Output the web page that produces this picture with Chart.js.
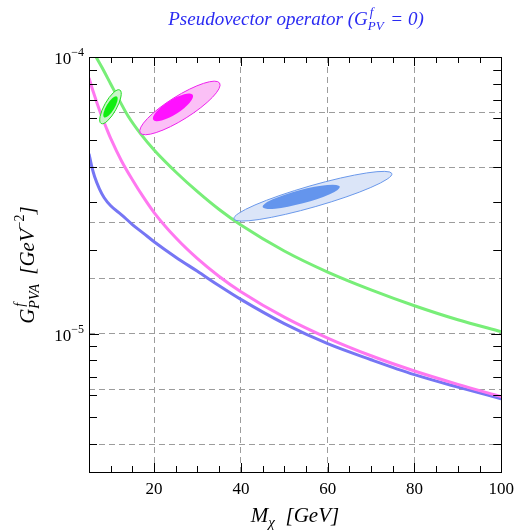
<!DOCTYPE html>
<html>
<head>
<meta charset="utf-8">
<script src="https://cdn.jsdelivr.net/npm/chart.js@4/dist/chart.umd.min.js"></script>
<style>
  html, body { margin: 0; padding: 0; background: #fff; }
  #wrap { width: 521px; height: 531px; position: relative; }
</style>
</head>
<body>
<div id="wrap"><canvas id="chart" width="521" height="531"></canvas></div>
<script>
// Exclusion limits on the pseudovector-axial coupling vs. WIMP mass
const blueMass  = [5, 5.6, 6.3, 7.4, 8.5, 10, 12.5, 15, 17.5, 20, 25, 30, 35, 40, 50, 60, 70, 80, 90, 100];
const blueLimit = [4.47e-5, 4.04e-5, 3.69e-5, 3.34e-5, 3.10e-5, 2.90e-5, 2.69e-5, 2.48e-5, 2.31e-5, 2.15e-5,
                   1.89e-5, 1.68e-5, 1.49e-5, 1.33e-5, 1.087e-5, 9.2e-6, 8.05e-6, 7.11e-6, 6.41e-6, 5.82e-6];

const magentaMass  = [5, 6, 7, 8, 9, 10, 12.5, 15, 17.5, 20, 25, 30, 35, 40, 50, 60, 70, 80, 90, 100];
const magentaLimit = [8.40e-5, 7.47e-5, 6.71e-5, 6.07e-5, 5.54e-5, 5.08e-5, 4.21e-5, 3.60e-5, 3.12e-5, 2.74e-5,
                      2.22e-5, 1.866e-5, 1.61e-5, 1.418e-5, 1.147e-5, 9.64e-6, 8.32e-6, 7.33e-6, 6.56e-6, 5.92e-6];

const greenMass  = [6, 6.65, 8, 10, 12, 14, 17, 20, 25, 30, 35, 40, 50, 60, 70, 80, 90, 100];
const greenLimit = [1.051e-4, 1.0e-4, 9.16e-5, 7.99e-5, 6.97e-5, 6.12e-5, 5.25e-5, 4.61e-5, 3.84e-5, 3.26e-5,
                    2.81e-5, 2.47e-5, 1.99e-5, 1.67e-5, 1.44e-5, 1.262e-5, 1.123e-5, 1.017e-5];

// Allowed regions: [mass, coupling] at both tips of each contour, plus width/length ratio
const greenOuter   = [[7.8, 5.75e-5], [12.1, 7.6e-5]];
const greenInner   = [[8.5, 6.05e-5], [11.4, 7.2e-5]];
const magentaOuter = [[16.8, 5.32e-5], [35.1, 8.05e-5]];
const magentaInner = [[19.8, 5.93e-5], [28.9, 7.30e-5]];
const blueOuter    = [[38.4, 2.60e-5], [74.8, 3.79e-5]];
const blueInner    = [[45.0, 2.87e-5], [62.8, 3.40e-5]];
const contourRatio = { greenOuter: 0.32, greenInner: 0.33, magentaOuter: 0.25, magentaInner: 0.31, blueOuter: 0.13, blueInner: 0.17 };

// Axis ticks
const xTickValues    = [20, 40, 60, 80, 100];
const xMinorTicks    = [10, 15, 20, 25, 30, 35, 40, 45, 50, 55, 60, 65, 70, 75, 80, 85, 90, 95];
const yGridExponents = [-4, -4.2, -4.4, -4.6, -4.8, -5, -5.2, -5.4];
const yMinorTicks    = [4e-6, 5e-6, 6e-6, 7e-6, 8e-6, 9e-6, 2e-5, 3e-5, 4e-5, 5e-5, 6e-5, 7e-5, 8e-5, 9e-5];
const yMajorTicks    = [1e-5];
const yLabelExponents = [-4, -5];

const SERIF = '"Liberation Serif", "DejaVu Serif", serif';

function points(xs, ys) { return xs.map((x, i) => ({ x: x, y: ys[i] })); }

function lineSet(label, xs, ys, color) {
  return {
    label: label, data: points(xs, ys), showLine: true,
    borderColor: color, backgroundColor: color, borderWidth: 3,
    pointRadius: 0, pointHoverRadius: 0, cubicInterpolationMode: 'monotone', fill: false
  };
}

// Draws a run of text pieces; each piece may carry a superscript and/or subscript
function drawRich(ctx, pieces, x, y, align) {
  const measure = p => {
    ctx.font = p.font;
    let w = ctx.measureText(p.t || '').width;
    let extra = 0;
    if (p.sup || p.sub) {
      ctx.font = p.smallFont;
      extra = Math.max(p.sup ? ctx.measureText(p.sup).width + (p.supShift || 0) : 0, p.sub ? ctx.measureText(p.sub).width : 0);
    }
    return w + extra + (p.gap || 0);
  };
  const total = pieces.reduce((s, p) => s + measure(p), 0);
  let cx = align === 'center' ? x - total / 2 : (align === 'right' ? x - total : x);
  pieces.forEach(p => {
    ctx.font = p.font;
    ctx.fillText(p.t || '', cx, y);
    cx += ctx.measureText(p.t || '').width;
    if (p.sup || p.sub) {
      ctx.font = p.smallFont;
      let w = 0;
      if (p.sup) { ctx.fillText(p.sup, cx + (p.supShift || 0), y - p.supRaise); w = Math.max(w, ctx.measureText(p.sup).width + (p.supShift || 0)); }
      if (p.sub) { ctx.fillText(p.sub, cx, y + p.subDrop); w = Math.max(w, ctx.measureText(p.sub).width); }
      cx += w;
    }
    cx += (p.gap || 0);
  });
}

const ellipsePlugin = {
  id: 'contours',
  afterDatasetsDraw(chart) {
    const { ctx, chartArea, scales: { x, y } } = chart;
    const draw = (tips, ratio, fill, stroke) => {
      const x1 = x.getPixelForValue(tips[0][0]), y1 = y.getPixelForValue(tips[0][1]);
      const x2 = x.getPixelForValue(tips[1][0]), y2 = y.getPixelForValue(tips[1][1]);
      const len = Math.hypot(x2 - x1, y2 - y1);
      const ang = Math.atan2(y2 - y1, x2 - x1);
      ctx.beginPath();
      ctx.ellipse((x1 + x2) / 2, (y1 + y2) / 2, len / 2, ratio * len / 2, ang, 0, Math.PI * 2);
      ctx.fillStyle = fill; ctx.fill();
      if (stroke) { ctx.lineWidth = 1; ctx.strokeStyle = stroke; ctx.stroke(); }
    };
    ctx.save();
    ctx.beginPath();
    ctx.rect(chartArea.left, chartArea.top, chartArea.right - chartArea.left, chartArea.bottom - chartArea.top);
    ctx.clip();
    draw(greenOuter, contourRatio.greenOuter, '#c9f5c9', '#22dd22');
    draw(greenInner, contourRatio.greenInner, '#11ee11', null);
    draw(magentaOuter, contourRatio.magentaOuter, '#fbc0f6', '#ee22ee');
    draw(magentaInner, contourRatio.magentaInner, '#ff11ff', null);
    draw(blueOuter, contourRatio.blueOuter, '#dbe5f8', '#6a98ea');
    draw(blueInner, contourRatio.blueInner, '#6495ed', null);
    ctx.restore();
  }
};

const framePlugin = {
  id: 'frame',
  afterDraw(chart) {
    const { ctx, chartArea: a, scales: { x, y } } = chart;
    ctx.save();
    ctx.strokeStyle = '#000';
    ctx.lineWidth = 1;
    ctx.setLineDash([]);
    // inward tick marks on all four sides
    ctx.beginPath();
    xMinorTicks.forEach(v => {
      const px = Math.round(x.getPixelForValue(v)) + 0.5;
      const len = xTickValues.includes(v) ? 9 : 6;
      ctx.moveTo(px, a.bottom); ctx.lineTo(px, a.bottom - len);
      ctx.moveTo(px, a.top); ctx.lineTo(px, a.top + len);
    });
    const yTick = (v, len) => {
      const py = Math.round(y.getPixelForValue(v)) + 0.5;
      ctx.moveTo(a.left, py); ctx.lineTo(a.left + len, py);
      ctx.moveTo(a.right, py); ctx.lineTo(a.right - len, py);
    };
    yMinorTicks.forEach(v => yTick(v, 8));
    yMajorTicks.forEach(v => yTick(v, 10));
    ctx.stroke();
    // frame
    ctx.strokeRect(Math.round(a.left) + 0.5, Math.round(a.top) + 0.5, Math.round(a.right - a.left), Math.round(a.bottom - a.top));

    ctx.fillStyle = '#000';
    ctx.textBaseline = 'alphabetic';
    // y tick labels (powers of ten)
    yLabelExponents.forEach(e => {
      const py = y.getPixelForValue(Math.pow(10, e));
      drawRich(ctx, [{ t: '10', font: '17px ' + SERIF, smallFont: '12px ' + SERIF, sup: '\u2212' + Math.abs(e), supRaise: 8 }], a.left - 5, py + 7, 'right');
    });

    // x axis title
    drawRich(ctx, [
      { t: 'M', font: 'italic 21px ' + SERIF, smallFont: 'italic 15px ' + SERIF, sub: '\u03c7', subDrop: 5, gap: 0 },
      { t: '  [GeV]', font: 'italic 21px ' + SERIF }
    ], 295, 522, 'center');

    // y axis title (rotated)
    ctx.save();
    ctx.translate(34, 265);
    ctx.rotate(-Math.PI / 2);
    drawRich(ctx, [
      { t: 'G', font: 'italic 21px ' + SERIF, smallFont: 'italic 14px ' + SERIF, sup: 'f', supRaise: 10, supShift: 2, sub: 'PVA', subDrop: 5, gap: 4 },
      { t: ' [GeV', font: 'italic 21px ' + SERIF, smallFont: '14px ' + SERIF, sup: '\u22122', supRaise: 10, gap: 0 },
      { t: ']', font: 'italic 21px ' + SERIF }
    ], 0, 0, 'center');
    ctx.restore();

    // chart title
    ctx.fillStyle = '#2b2bf2';
    drawRich(ctx, [
      { t: 'Pseudovector operator (G', font: 'italic 19px ' + SERIF, smallFont: 'italic 13px ' + SERIF, sup: 'f', supRaise: 9, supShift: 2, sub: 'PV', subDrop: 5, gap: 2 },
      { t: ' = 0)', font: 'italic 19px ' + SERIF }
    ], 296, 25, 'center');
    ctx.restore();
  }
};

const gridStyle = { color: '#9c9c9c', lineWidth: 1, drawTicks: false };
const gridBorder = { display: false, dash: [6, 4] };

function build() {
  Chart.defaults.font.family = SERIF;
  new Chart(document.getElementById('chart').getContext('2d'), {
    type: 'scatter',
    data: {
      datasets: [
        lineSet('Magenta limit', magentaMass, magentaLimit, '#ff78f0'),
        lineSet('Blue limit', blueMass, blueLimit, '#7676f4'),
        lineSet('Green limit', greenMass, greenLimit, '#78ee78')
      ]
    },
    options: {
      responsive: false,
      animation: false,
      events: [],
      layout: { padding: { top: 57, right: 17, left: 0, bottom: 0 } },
      plugins: { legend: { display: false }, tooltip: { enabled: false }, title: { display: false } },
      scales: {
        x: {
          type: 'linear', min: 5, max: 100,
          afterBuildTicks: s => { s.ticks = xTickValues.map(v => ({ value: v })); },
          afterFit: s => { s.height = 59; },
          grid: gridStyle, border: gridBorder,
          ticks: { color: '#000', padding: 7, autoSkip: false, maxRotation: 0, font: { family: SERIF, size: 17 }, callback: v => String(v) }
        },
        y: {
          type: 'logarithmic', min: Math.pow(10, -5.5), max: 1e-4,
          afterBuildTicks: s => { s.ticks = yGridExponents.map(e => ({ value: Math.pow(10, e) })); },
          afterFit: s => { s.width = 89; },
          grid: gridStyle, border: gridBorder,
          ticks: { display: false }
        }
      }
    },
    plugins: [ellipsePlugin, framePlugin]
  });
}

Promise.all([
  document.fonts.load('17px "Liberation Serif"'),
  document.fonts.load('italic 19px "Liberation Serif"')
]).then(build, build);
</script>
</body>
</html>
